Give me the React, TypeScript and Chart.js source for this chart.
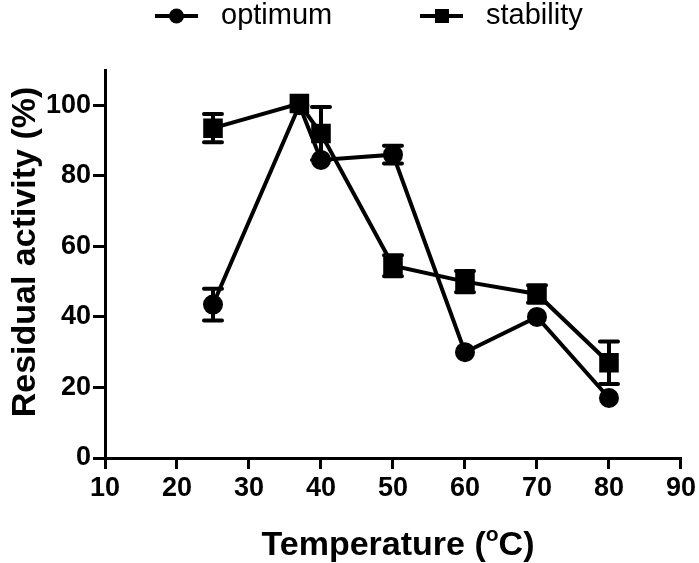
import React, { useEffect, useRef } from "react";
import { Chart, registerables } from "chart.js";

Chart.register(...registerables);

// ============================================================================
// DATA
// ============================================================================

const temperatures = [25, 37, 40, 50, 60, 70, 80];
const optimumValues = [43.5, 100, 84.5, 86, 30, 40, 17];
const optimumErrors = [4.5, 0, 0, 2.5, 0, 0, 0];
const stabilityValues = [93.5, 100.5, 92, 54.5, 50, 46.5, 27];
const stabilityErrors = [4, 0, 7.5, 3, 3, 2.5, 6];
const seriesLabels = ["optimum", "stability"];
const xTitle = "Temperature (";
const xTitleSup = "o";
const xTitleEnd = "C)";
const yTitle = "Residual activity (%)";

const FONT = "'Liberation Sans', Arial, Helvetica, sans-serif";

// ============================================================================
// PLUGINS
// ============================================================================

const errorBars = {
  id: "errorBars",
  afterDatasetsDraw(chart: any) {
    const { ctx } = chart;
    const y = chart.scales.y;
    const errs = [optimumErrors, stabilityErrors];
    ctx.save();
    ctx.strokeStyle = "#000";
    ctx.lineWidth = 4;
    ctx.lineCap = "round";
    chart.data.datasets.forEach((ds: any, i: number) => {
      const meta = chart.getDatasetMeta(i);
      meta.data.forEach((pt: any, j: number) => {
        const e = errs[i][j];
        if (!e) return;
        const v = ds.data[j].y;
        const top = y.getPixelForValue(v + e);
        const bot = y.getPixelForValue(v - e);
        ctx.beginPath();
        ctx.moveTo(pt.x, top);
        ctx.lineTo(pt.x, bot);
        ctx.moveTo(pt.x - 9, top);
        ctx.lineTo(pt.x + 9, top);
        ctx.moveTo(pt.x - 9, bot);
        ctx.lineTo(pt.x + 9, bot);
        ctx.stroke();
      });
    });
    ctx.restore();
  },
};

const legendAndTitles = {
  id: "legendAndTitles",
  afterDraw(chart: any) {
    const { ctx } = chart;
    ctx.save();
    ctx.fillStyle = "#000";
    ctx.strokeStyle = "#000";

    // legend
    const starts = [155, 420];
    chart.data.datasets.forEach((ds: any, i: number) => {
      const x0 = starts[i];
      const cy = 16;
      ctx.lineWidth = 4;
      ctx.beginPath();
      ctx.moveTo(x0, cy);
      ctx.lineTo(x0 + 43, cy);
      ctx.stroke();
      ctx.beginPath();
      if (ds.pointStyle === "rect") ctx.rect(x0 + 15, cy - 7, 14, 14);
      else ctx.arc(x0 + 21.5, cy, 7.5, 0, Math.PI * 2);
      ctx.fill();
      ctx.font = `29px ${FONT}`;
      ctx.textAlign = "left";
      ctx.textBaseline = "alphabetic";
      ctx.fillText(ds.label, x0 + 66, 24);
    });

    // x title with superscript
    ctx.font = `bold 34px ${FONT}`;
    const w1 = ctx.measureText(xTitle).width;
    const w3 = ctx.measureText(xTitleEnd).width;
    ctx.font = `bold 21px ${FONT}`;
    const w2 = ctx.measureText(xTitleSup).width;
    let x = 398 - (w1 + w2 + w3) / 2;
    ctx.textAlign = "left";
    ctx.font = `bold 34px ${FONT}`;
    ctx.fillText(xTitle, x, 555);
    x += w1;
    ctx.font = `bold 21px ${FONT}`;
    ctx.fillText(xTitleSup, x, 541);
    x += w2;
    ctx.font = `bold 34px ${FONT}`;
    ctx.fillText(xTitleEnd, x, 555);

    // y title
    ctx.translate(35, 252);
    ctx.rotate(-Math.PI / 2);
    ctx.textAlign = "center";
    ctx.fillText(yTitle, 0, 0);
    ctx.restore();
  },
};

// ============================================================================
// COMPONENT
// ============================================================================

export default function App() {
  const canvasRef = useRef<HTMLCanvasElement | null>(null);

  useEffect(() => {
    const ctx = canvasRef.current?.getContext("2d");
    if (!ctx) return;

    const tickFont = { family: FONT, size: 27, weight: "bold" as const };

    const chart = new Chart(ctx, {
      type: "scatter",
      data: {
        datasets: [
          {
            label: seriesLabels[0],
            data: temperatures.map((t, i) => ({ x: t, y: optimumValues[i] })),
            showLine: true,
            borderColor: "#000",
            backgroundColor: "#000",
            borderWidth: 4,
            pointStyle: "circle",
            pointRadius: 8,
            pointHoverRadius: 8,
          },
          {
            label: seriesLabels[1],
            data: temperatures.map((t, i) => ({ x: t, y: stabilityValues[i] })),
            showLine: true,
            borderColor: "#000",
            backgroundColor: "#000",
            borderWidth: 4,
            pointStyle: "rect",
            pointRadius: 11,
            pointHoverRadius: 11,
          },
        ],
      },
      options: {
        responsive: false,
        animation: false,
        layout: { padding: { top: 70, left: 0, right: 17, bottom: 0 } },
        plugins: {
          legend: { display: false },
          tooltip: { enabled: false },
        },
        scales: {
          x: {
            type: "linear",
            min: 10,
            max: 90,
            afterFit: (s: any) => {
              s.height = 105;
            },
            ticks: { stepSize: 10, color: "#000", font: tickFont, padding: 3 },
            grid: {
              drawOnChartArea: false,
              color: "#000",
              lineWidth: 3,
              tickLength: 11,
            },
            border: { color: "#000", width: 3 },
          },
          y: {
            min: 0,
            max: 110,
            afterFit: (s: any) => {
              s.width = 105;
            },
            afterBuildTicks: (s: any) => {
              s.ticks = s.ticks.filter((t: any) => t.value <= 100);
            },
            ticks: { stepSize: 20, color: "#000", font: tickFont, padding: 2 },
            grid: {
              drawOnChartArea: false,
              color: "#000",
              lineWidth: 3,
              tickLength: 12,
            },
            border: { color: "#000", width: 3 },
          },
        },
      },
      plugins: [errorBars, legendAndTitles],
    });

    return () => chart.destroy();
  }, []);

  return (
    <div style={{ position: "absolute", left: 0, top: 0, width: 699, height: 563, background: "#fff" }}>
      <canvas ref={canvasRef} width={699} height={563} style={{ width: 699, height: 563 }} />
    </div>
  );
}
